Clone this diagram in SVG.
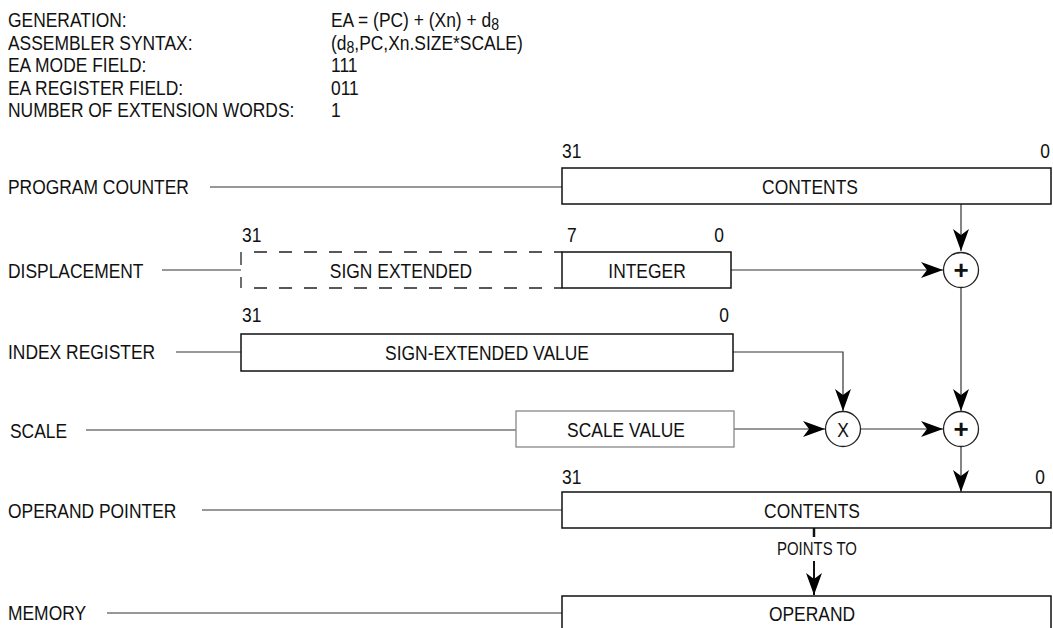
<svg xmlns="http://www.w3.org/2000/svg" width="1053" height="628" viewBox="0 0 1053 628">
<style>
text{font-family:"Liberation Sans",Arial,sans-serif;font-size:21px;fill:#111}
.pt{font-size:18px}
.sub{font-size:17px}
.box{fill:#fff;stroke:#111;stroke-width:1.5}
.gbox{fill:#fff;stroke:#888;stroke-width:1.3}
.ln{fill:none;stroke:#333;stroke-width:1.2}
.dash{fill:none;stroke:#222;stroke-width:1.3;stroke-dasharray:13 12}
.circ{fill:#fff;stroke:#222;stroke-width:1.3}
.mid{text-anchor:middle}
.end{text-anchor:end}
.op{font-size:26px;font-weight:bold}
</style>
<defs>
<marker id="ah" markerUnits="userSpaceOnUse" markerWidth="24" markerHeight="18" refX="22" refY="8" orient="auto">
<path d="M0,0 L22,8 L0,16 L6,8 Z" fill="#000"/>
</marker>
</defs>

<g id="header">
<text transform="translate(8,27) scale(0.83,1)">GENERATION:</text>
<text transform="translate(8,49.5) scale(0.83,1)">ASSEMBLER SYNTAX:</text>
<text transform="translate(8,72) scale(0.83,1)">EA MODE FIELD:</text>
<text transform="translate(8,94.5) scale(0.83,1)">EA REGISTER FIELD:</text>
<text transform="translate(8,117) scale(0.83,1)">NUMBER OF EXTENSION WORDS:</text>
<text transform="translate(331,27) scale(0.83,1)">EA = (PC) + (Xn) + d<tspan class="sub" dy="3">8</tspan></text>
<text transform="translate(331,49.5) scale(0.83,1)">(d<tspan class="sub" dy="3">8</tspan><tspan dy="-3">,PC,Xn.SIZE*SCALE)</tspan></text>
<text transform="translate(331,72) scale(0.83,1)">111</text>
<text transform="translate(331,94.5) scale(0.83,1)">011</text>
<text transform="translate(331,117) scale(0.83,1)">1</text>
</g>

<g id="connectors">
<line class="ln" x1="210" y1="187" x2="562" y2="187"/>
<line class="ln" x1="162" y1="270" x2="241" y2="270"/>
<line class="ln" x1="176" y1="352" x2="241" y2="352"/>
<line class="ln" x1="86" y1="430" x2="516" y2="430"/>
<line class="ln" x1="202" y1="510" x2="562" y2="510"/>
<line class="ln" x1="107" y1="613" x2="562" y2="613"/>
<line class="ln" x1="961" y1="204" x2="961" y2="251" marker-end="url(#ah)"/>
<line class="ln" x1="731" y1="270" x2="943" y2="270" marker-end="url(#ah)"/>
<polyline class="ln" points="733,352 843,352 843,411" marker-end="url(#ah)"/>
<line class="ln" x1="961" y1="288" x2="961" y2="411" marker-end="url(#ah)"/>
<line class="ln" x1="734" y1="429" x2="825" y2="429" marker-end="url(#ah)"/>
<line class="ln" x1="861" y1="429" x2="943" y2="429" marker-end="url(#ah)"/>
<line class="ln" x1="961" y1="447" x2="961" y2="492" marker-end="url(#ah)"/>
<line x1="814" y1="528" x2="814" y2="537" stroke="#111" stroke-width="2.5"/>
<line x1="814" y1="561" x2="814" y2="595" stroke="#111" stroke-width="2" marker-end="url(#ah)"/>
<text class="pt mid" transform="translate(817,555) scale(0.83,1)">POINTS TO</text>
</g>

<g id="labels">
<text transform="translate(8,194) scale(0.83,1)">PROGRAM COUNTER</text>
<text transform="translate(8,278) scale(0.83,1)">DISPLACEMENT</text>
<text transform="translate(8,359) scale(0.83,1)">INDEX REGISTER</text>
<text transform="translate(10,438) scale(0.83,1)">SCALE</text>
<text transform="translate(8,518) scale(0.83,1)">OPERAND POINTER</text>
<text transform="translate(8,620) scale(0.83,1)">MEMORY</text>
</g>

<g id="program-counter">
<rect class="box" x="562" y="168" width="489" height="36"/>
<text class="mid" transform="translate(810,194) scale(0.83,1)">CONTENTS</text>
<text transform="translate(562,158) scale(0.83,1)">31</text>
<text class="end" transform="translate(1050,158) scale(0.83,1)">0</text>
</g>

<g id="displacement">
<line class="dash" x1="241" y1="252" x2="241" y2="288" stroke-dasharray="14 12"/>
<line class="dash" x1="254" y1="252" x2="562" y2="252"/>
<line class="dash" x1="254" y1="288" x2="562" y2="288"/>
<text class="mid" transform="translate(401,278) scale(0.83,1)">SIGN EXTENDED</text>
<rect class="box" x="562" y="252" width="169" height="36"/>
<text class="mid" transform="translate(647,278) scale(0.83,1)">INTEGER</text>
<text transform="translate(242,242) scale(0.83,1)">31</text>
<text transform="translate(567,242) scale(0.83,1)">7</text>
<text class="end" transform="translate(724,242) scale(0.83,1)">0</text>
</g>

<g id="index-register">
<rect class="box" x="241" y="334" width="492" height="37"/>
<text class="mid" transform="translate(487,360) scale(0.83,1)">SIGN-EXTENDED VALUE</text>
<text transform="translate(242,322) scale(0.83,1)">31</text>
<text class="end" transform="translate(729,322) scale(0.83,1)">0</text>
</g>

<g id="scale">
<rect class="gbox" x="516" y="411" width="218" height="36"/>
<text class="mid" transform="translate(626,437) scale(0.83,1)">SCALE VALUE</text>
</g>

<g id="adder1">
<circle class="circ" cx="961" cy="270" r="17.5"/>
<text class="mid op" x="961" y="279">+</text>
</g>

<g id="multiplier">
<circle class="circ" cx="843" cy="429" r="17.5"/>
<text class="mid" transform="translate(843,437) scale(0.83,1)">X</text>
</g>

<g id="adder2">
<circle class="circ" cx="961" cy="429" r="17.5"/>
<text class="mid op" x="961" y="438">+</text>
</g>

<g id="operand-pointer">
<rect class="box" x="562" y="492" width="489" height="36"/>
<text class="mid" transform="translate(812,518) scale(0.83,1)">CONTENTS</text>
<text transform="translate(562,484) scale(0.83,1)">31</text>
<text class="end" transform="translate(1045,484) scale(0.83,1)">0</text>
</g>

<g id="memory">
<rect class="box" x="562" y="596" width="489" height="40"/>
<text class="mid" transform="translate(812,621) scale(0.83,1)">OPERAND</text>
</g>
</svg>
